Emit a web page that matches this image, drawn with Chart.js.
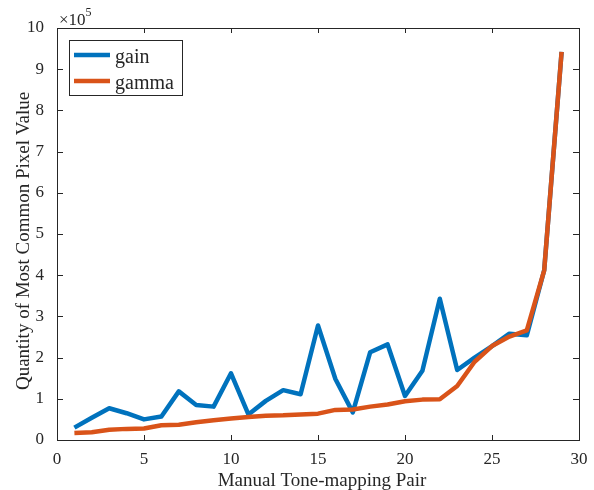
<!DOCTYPE html>
<html>
<head>
<meta charset="utf-8">
<script src="https://cdn.jsdelivr.net/npm/chart.js@4.4.0/dist/chart.umd.min.js"></script>
<style>
  body { margin: 0; background: #fff; }
  #wrap { width: 594px; height: 490px; }
</style>
</head>
<body>
<div id="wrap"><canvas id="chart" width="594" height="490"></canvas></div>
<script>
// values (pixel counts)
const pairs = [1,2,3,4,5,6,7,8,9,10,11,12,13,14,15,16,17,18,19,20,21,22,23,24,25,26,27,28,29];
const gain = [30000, 54000, 77000, 65000, 50000, 57000, 118000, 85000, 81000, 162000,
  62000, 95000, 121000, 111000, 278000, 148000, 67000, 213000, 232000, 107000,
  168000, 343000, 170000, 200000, 228000, 258000, 254000, 412000, 942000];
const gamma = [17000, 19000, 25000, 27000, 28000, 36000, 37000, 43000, 48000, 52000,
  56000, 59000, 60000, 62000, 64000, 73000, 74000, 81000, 86000, 94000,
  98000, 99000, 131000, 190000, 228000, 251000, 266000, 412000, 942000];
const xTicks = [0, 5, 10, 15, 20, 25, 30];
const yTicks = [0, 1, 2, 3, 4, 5, 6, 7, 8, 9, 10];

const FONT = "'Liberation Serif', 'Times New Roman', serif";
const INK = '#262626';

// MATLAB style box with inward ticks, axis labels, exponent and legend
const matlabAxes = {
  id: 'matlabAxes',
  afterDatasetsDraw(chart) {
    const { ctx, chartArea: a, scales } = chart;
    ctx.save();
    ctx.strokeStyle = INK;
    ctx.lineWidth = 1;
    ctx.strokeRect(a.left + 0.5, a.top + 0.5, a.right - a.left, a.bottom - a.top);
    ctx.beginPath();
    xTicks.forEach(v => {
      const x = Math.round(scales.x.getPixelForValue(v)) + 0.5;
      ctx.moveTo(x, a.bottom); ctx.lineTo(x, a.bottom - 5);
      ctx.moveTo(x, a.top); ctx.lineTo(x, a.top + 5);
    });
    yTicks.forEach(v => {
      const y = Math.round(scales.y.getPixelForValue(v * 1e5)) + 0.5;
      ctx.moveTo(a.left, y); ctx.lineTo(a.left + 6, y);
      ctx.moveTo(a.right, y); ctx.lineTo(a.right - 6, y);
    });
    ctx.stroke();
    ctx.restore();
  },
  afterDraw(chart) {
    const { ctx } = chart;
    ctx.save();
    ctx.fillStyle = INK;
    ctx.font = '19px ' + FONT;
    ctx.textAlign = 'center';
    ctx.textBaseline = 'alphabetic';
    ctx.fillText('Manual Tone-mapping Pair', 322, 486);

    ctx.save();
    ctx.translate(29, 241);
    ctx.rotate(-Math.PI / 2);
    ctx.fillText('Quantity of Most Common Pixel Value', 0, 0);
    ctx.restore();

    // exponent label
    ctx.textAlign = 'left';
    ctx.font = '17px ' + FONT;
    ctx.fillText('\u00d710', 59, 25);
    const w = ctx.measureText('\u00d710').width;
    ctx.font = '12px ' + FONT;
    ctx.fillText('5', 59 + w, 16);

    // legend
    const lx = 69, ly = 40;
    ctx.fillStyle = '#fff';
    ctx.fillRect(lx, ly, 114, 55);
    ctx.strokeStyle = INK;
    ctx.lineWidth = 1;
    ctx.strokeRect(lx + 0.5, ly + 0.5, 113, 55);
    ctx.font = '20px ' + FONT;
    chart.data.datasets.forEach((ds, i) => {
      const y = 55 + i * 26;
      ctx.strokeStyle = ds.borderColor;
      ctx.lineWidth = 4.5;
      ctx.beginPath();
      ctx.moveTo(74, y); ctx.lineTo(110, y);
      ctx.stroke();
      ctx.fillStyle = INK;
      ctx.fillText(ds.label, 115, y + 8);
    });
    ctx.restore();
  }
};

new Chart(document.getElementById('chart'), {
  type: 'line',
  data: {
    labels: pairs,
    datasets: [
      { label: 'gain', data: pairs.map((p, i) => ({ x: p, y: gain[i] })),
        borderColor: '#0072BD', borderWidth: 4.5, order: 2 },
      { label: 'gamma', data: pairs.map((p, i) => ({ x: p, y: gamma[i] })),
        borderColor: '#D95319', borderWidth: 4.5, order: 1 }
    ]
  },
  options: {
    responsive: false,
    animation: false,
    events: [],
    layout: { padding: { top: 28, right: 15, left: 0, bottom: 0 } },
    elements: {
      point: { radius: 0 },
      line: { tension: 0, fill: false, borderJoinStyle: 'round' }
    },
    plugins: { legend: { display: false }, tooltip: { enabled: false } },
    scales: {
      x: {
        type: 'linear', min: 0, max: 30,
        afterFit: s => { s.height = 50; },
        afterBuildTicks: s => { s.ticks = xTicks.map(v => ({ value: v })); },
        grid: { display: false },
        border: { display: false },
        ticks: { color: INK, padding: 1, maxRotation: 0, font: { family: FONT, size: 17 } }
      },
      y: {
        min: 0, max: 1e6,
        afterFit: s => { s.width = 57; },
        afterBuildTicks: s => { s.ticks = yTicks.map(v => ({ value: v * 1e5 })); },
        grid: { display: false },
        border: { display: false },
        ticks: { color: INK, padding: 5, font: { family: FONT, size: 17 },
          callback: v => String(v / 1e5) }
      }
    }
  },
  plugins: [matlabAxes]
});
</script>
</body>
</html>
